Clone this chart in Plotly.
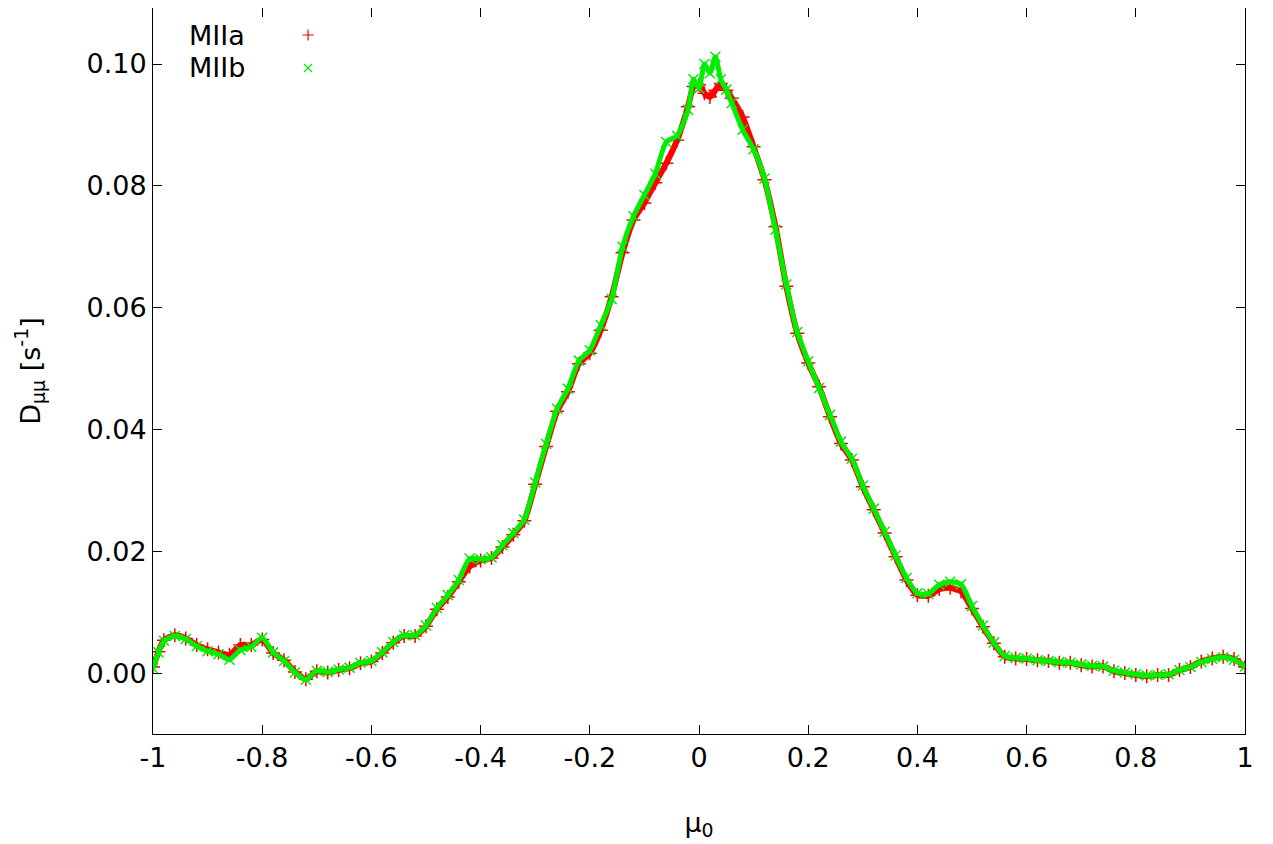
import plotly.graph_objects as go

mu = [-1.00, -0.99, -0.98, -0.96, -0.94, -0.92, -0.90, -0.88, -0.86, -0.84, -0.82, -0.80,
      -0.78, -0.76, -0.74, -0.72, -0.70, -0.68, -0.66, -0.64, -0.62, -0.60, -0.58, -0.56,
      -0.54, -0.52, -0.50, -0.48, -0.46, -0.44, -0.42, -0.40, -0.38, -0.36, -0.34, -0.32,
      -0.30, -0.28, -0.26, -0.24, -0.22, -0.20, -0.18, -0.16, -0.14, -0.12, -0.10, -0.08,
      -0.06, -0.04, -0.02, -0.01, 0.00, 0.01, 0.02, 0.03, 0.04, 0.05, 0.06, 0.08,
      0.10, 0.12, 0.14, 0.16, 0.18, 0.20, 0.22, 0.24, 0.26, 0.28, 0.30, 0.32,
      0.34, 0.36, 0.38, 0.40, 0.42, 0.44, 0.46, 0.48, 0.50, 0.52, 0.54, 0.56,
      0.58, 0.60, 0.62, 0.64, 0.66, 0.68, 0.70, 0.72, 0.74, 0.76, 0.78, 0.80,
      0.82, 0.84, 0.86, 0.88, 0.90, 0.92, 0.94, 0.96, 0.98, 1.00]

miia = [0.0010, 0.0035, 0.0054, 0.0062, 0.0057, 0.0046, 0.0039, 0.0034, 0.0030, 0.0046, 0.0046, 0.0055,
        0.0033, 0.0021, 0.0002, -0.0010, 0.0003, 0.0001, 0.0005, 0.0008, 0.0016, 0.0019, 0.0033, 0.0050,
        0.0061, 0.0061, 0.0077, 0.0105, 0.0125, 0.0150, 0.0175, 0.0185, 0.0189, 0.0207, 0.0227, 0.0250,
        0.0310, 0.0372, 0.0430, 0.0462, 0.0508, 0.0525, 0.0563, 0.0618, 0.0690, 0.0744, 0.0772, 0.0805,
        0.0837, 0.0875, 0.0930, 0.0963, 0.0966, 0.0952, 0.0946, 0.0957, 0.0968, 0.0957, 0.0944, 0.0913,
        0.0864, 0.0810, 0.0733, 0.0635, 0.0558, 0.0509, 0.0470, 0.0421, 0.0377, 0.0350, 0.0306, 0.0268,
        0.0230, 0.0191, 0.0153, 0.0128, 0.0127, 0.0138, 0.0140, 0.0134, 0.0106, 0.0076, 0.0049, 0.0027,
        0.0024, 0.0023, 0.0021, 0.0020, 0.0017, 0.0017, 0.0013, 0.0011, 0.0011, 0.0003, 0.0000, -0.0003,
        -0.0005, -0.0003, -0.0003, 0.0005, 0.0010, 0.0019, 0.0024, 0.0027, 0.0023, 0.0010]

miib = [0.0008, 0.0034, 0.0053, 0.0061, 0.0056, 0.0044, 0.0036, 0.0031, 0.0022, 0.0038, 0.0043, 0.0058,
        0.0034, 0.0020, 0.0001, -0.0011, 0.0004, 0.0002, 0.0006, 0.0009, 0.0017, 0.0020, 0.0034, 0.0051,
        0.0062, 0.0062, 0.0078, 0.0107, 0.0128, 0.0153, 0.0188, 0.0187, 0.0190, 0.0210, 0.0230, 0.0252,
        0.0313, 0.0376, 0.0434, 0.0467, 0.0513, 0.0530, 0.0571, 0.0614, 0.0700, 0.0750, 0.0785, 0.0820,
        0.0872, 0.0882, 0.0925, 0.0975, 0.0960, 0.1000, 0.0985, 0.1012, 0.0975, 0.0958, 0.0936, 0.0892,
        0.0860, 0.0812, 0.0728, 0.0638, 0.0560, 0.0512, 0.0468, 0.0424, 0.0380, 0.0352, 0.0308, 0.0270,
        0.0232, 0.0193, 0.0156, 0.0131, 0.0130, 0.0145, 0.0150, 0.0146, 0.0110, 0.0078, 0.0050, 0.0028,
        0.0025, 0.0024, 0.0021, 0.0020, 0.0018, 0.0017, 0.0014, 0.0012, 0.0011, 0.0004, 0.0001, -0.0002,
        -0.0004, -0.0003, -0.0002, 0.0005, 0.0010, 0.0018, 0.0023, 0.0026, 0.0022, 0.0011]

series_names = ["MIIa", "MIIb"]
x_tick_vals = [-1, -0.8, -0.6, -0.4, -0.2, 0, 0.2, 0.4, 0.6, 0.8, 1]
x_tick_text = ["-1", "-0.8", "-0.6", "-0.4", "-0.2", "0", "0.2", "0.4", "0.6", "0.8", "1"]
y_tick_vals = [0.00, 0.02, 0.04, 0.06, 0.08, 0.10]
y_tick_text = ["0.00", "0.02", "0.04", "0.06", "0.08", "0.10"]

RED = "#ff0000"
GREEN = "#00ee00"
FONT = "DejaVu Sans"
FS = 27

fig = go.Figure()

fig.add_trace(go.Scatter(
    x=mu, y=miia, mode="lines+markers", name=series_names[0], showlegend=False,
    line=dict(color=RED, width=6, shape="spline", smoothing=0.6),
    marker=dict(symbol="cross-thin", size=10, color=RED, line=dict(color=RED, width=1.5)),
))
fig.add_trace(go.Scatter(
    x=mu, y=miib, mode="lines+markers", name=series_names[1], showlegend=False,
    line=dict(color=GREEN, width=5, shape="spline", smoothing=0.6),
    marker=dict(symbol="x-thin", size=10, color=GREEN, line=dict(color=GREEN, width=1.5)),
))

# legend key markers on an overlay unit axis
fig.add_trace(go.Scatter(
    x=[0.142], y=[0.9628], xaxis="x2", yaxis="y2", mode="markers", showlegend=False,
    marker=dict(symbol="cross-thin", size=8, line=dict(color=RED, width=1.2)), hoverinfo="skip",
))
fig.add_trace(go.Scatter(
    x=[0.142], y=[0.9174], xaxis="x2", yaxis="y2", mode="markers", showlegend=False,
    marker=dict(symbol="x-thin", size=8, line=dict(color=GREEN, width=1.2)), hoverinfo="skip",
))

axis_common = dict(
    showgrid=False, zeroline=False, showline=True, linecolor="black", linewidth=1,
    mirror="allticks", ticks="inside", ticklen=9, tickwidth=1, tickcolor="black",
    tickfont=dict(family=FONT, size=FS, color="black"),
)

fig.update_layout(
    width=1265, height=836,
    margin=dict(l=145, r=28, t=0, b=110),
    paper_bgcolor="white", plot_bgcolor="white",
    font=dict(family=FONT, size=FS, color="black"),
    xaxis=dict(range=[-1, 1], tickvals=x_tick_vals, ticktext=x_tick_text,
               title=dict(text="μ<sub>0</sub>", font=dict(family=FONT, size=FS), standoff=40),
               **axis_common),
    yaxis=dict(range=[-0.01, 0.1092], tickvals=y_tick_vals, ticktext=y_tick_text,
               title=dict(text="D<sub>μμ</sub> [s<sup>-1</sup>]", font=dict(family=FONT, size=FS), standoff=38),
               **axis_common),
    xaxis2=dict(range=[0, 1], overlaying="x", visible=False, fixedrange=True),
    yaxis2=dict(range=[0, 1], overlaying="y", visible=False, fixedrange=True),
    showlegend=False,
    annotations=[
        dict(text=series_names[0], x=0.031, y=0.9628, xref="paper", yref="paper",
             xanchor="left", yanchor="middle", showarrow=False,
             font=dict(family=FONT, size=FS, color="black")),
        dict(text=series_names[1], x=0.031, y=0.9174, xref="paper", yref="paper",
             xanchor="left", yanchor="middle", showarrow=False,
             font=dict(family=FONT, size=FS, color="black")),
    ],
)

fig.write_html("out.html")
